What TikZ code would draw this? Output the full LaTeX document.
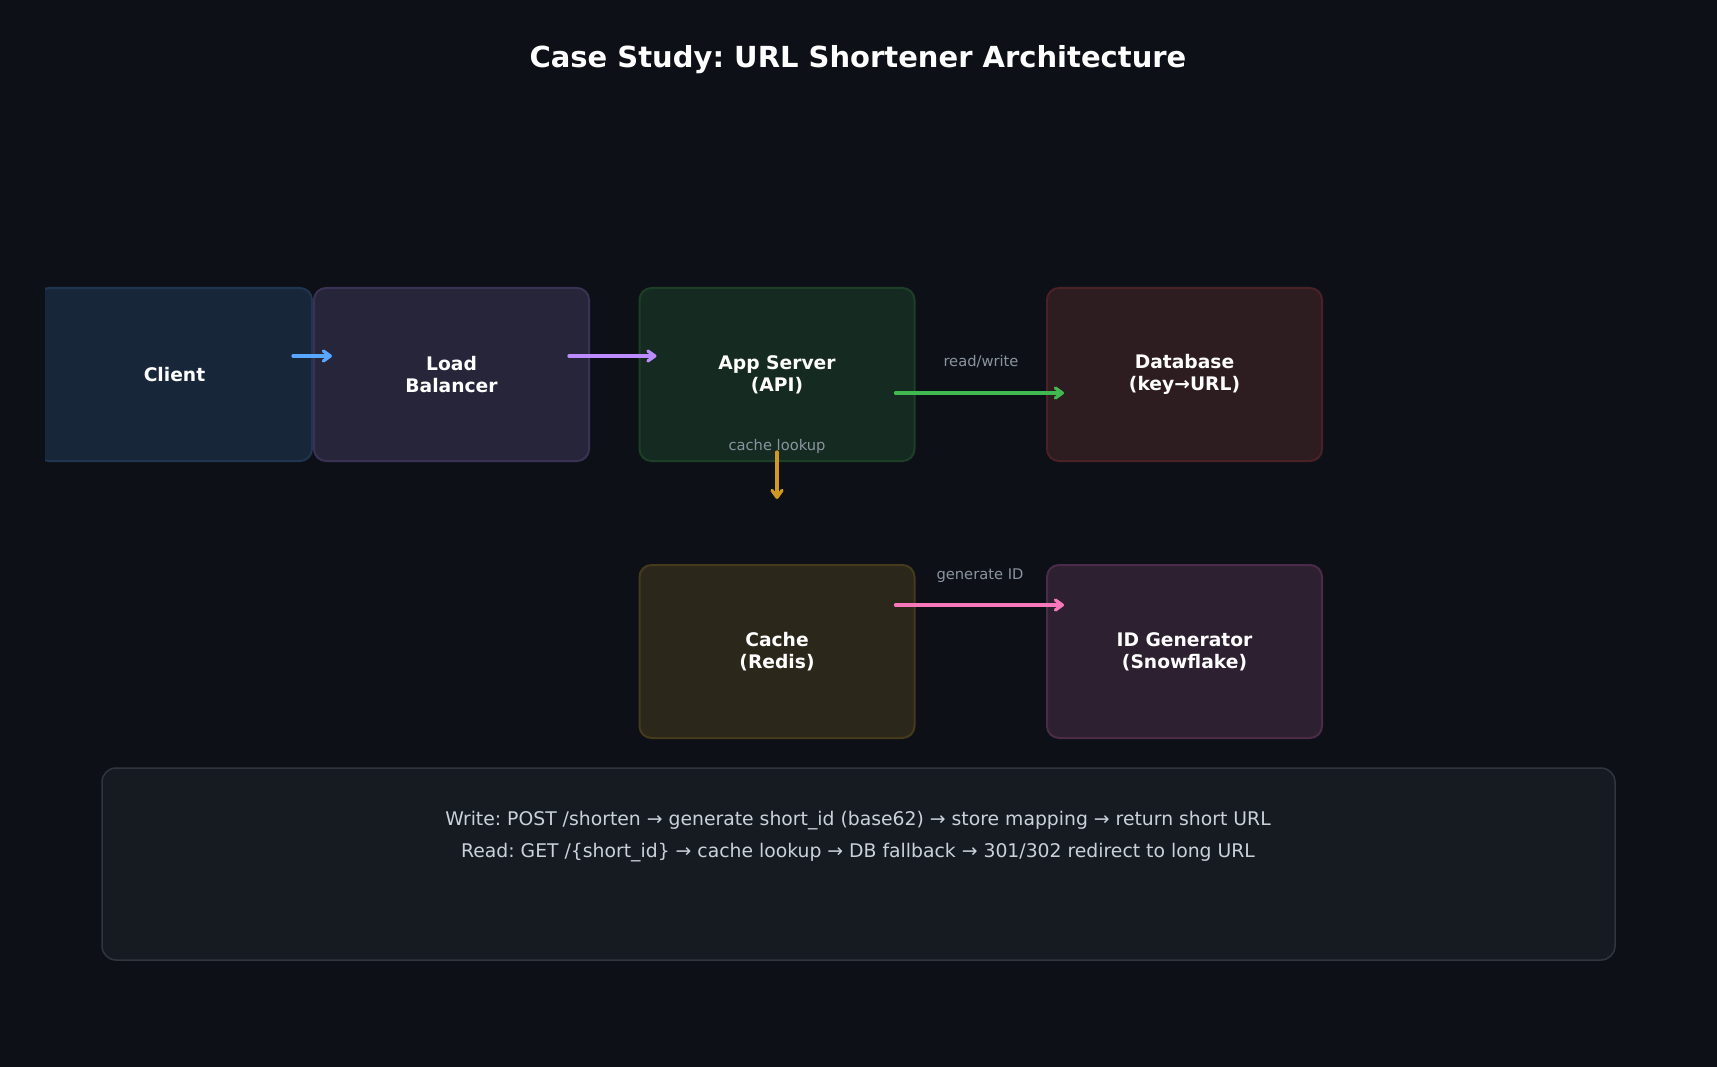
\documentclass[tikz,border=0pt]{standalone}
\usepackage{fontspec}
\setmainfont{DejaVu Sans}
\usetikzlibrary{arrows.meta,calc}
\frenchspacing
\definecolor{bg}{HTML}{0D1117}
\definecolor{lbl}{HTML}{8B949E}
\definecolor{notefill}{HTML}{161B22}
\definecolor{notedraw}{HTML}{30363D}
\definecolor{notetext}{HTML}{C9D1D9}
\definecolor{cblue}{HTML}{58A6FF}
\definecolor{cpurple}{HTML}{BC8CFF}
\definecolor{cgreen}{HTML}{3FB950}
\definecolor{corange}{HTML}{D29922}
\definecolor{cpink}{HTML}{F778BA}
\definecolor{fclient}{HTML}{18263A}
\definecolor{dclient}{HTML}{1F3550}
\definecolor{flb}{HTML}{262539}
\definecolor{dlb}{HTML}{3A3254}
\definecolor{fapp}{HTML}{152A20}
\definecolor{dapp}{HTML}{1D3F27}
\definecolor{fdb}{HTML}{2D1C20}
\definecolor{ddb}{HTML}{4A2226}
\definecolor{fcache}{HTML}{2C271B}
\definecolor{dcache}{HTML}{453A1C}
\definecolor{fid}{HTML}{2D2031}
\definecolor{did}{HTML}{4A2C48}
\tikzset{
  compbox/.style={rectangle, rounded corners=12pt, line width=2pt,
    minimum width=275pt, minimum height=173pt, align=center, text=white,
    font=\bfseries\fontsize{18.7}{22}\selectfont, inner sep=0pt},
  arr/.style={line width=3.3pt, line cap=round,
    -{Straight Barb[length=7pt,width=10pt,round]}},
  elabel/.style={text=lbl, font=\fontsize{14.7}{17}\selectfont, inner sep=0pt}
}
\begin{document}
\begin{tikzpicture}[x=1pt,y=-1pt]
\fill[bg] (0,0) rectangle (1717,1067);
\useasboundingbox (0,0) rectangle (1717,1067);
\node[text=white, font=\bfseries\fontsize{29}{34}\selectfont] (title) at (858,60) {Case Study: URL Shortener Architecture};
\begin{scope}
\clip (45,0) rectangle (1717,1067);
\node[compbox, fill=fclient, draw=dclient] (client) at (174.5,374.5) {Client};
\end{scope}
\node[compbox, fill=flb, draw=dlb] (lb) at (451.5,374.5) {Load\\Balancer};
\node[compbox, fill=fapp, draw=dapp] (app) at (777,374.5) {App Server\\(API)};
\node[compbox, fill=fdb, draw=ddb] (db) at (1184.5,374.5) {Database\\(key→URL)};
\node[compbox, fill=fcache, draw=dcache] (cache) at (777,651.5) {Cache\\(Redis)};
\node[compbox, fill=fid, draw=did] (idgen) at (1184.5,651.5) {ID Generator\\(Snowflake)};
\node[rectangle, rounded corners=14pt, line width=1.5pt, fill=notefill, draw=notedraw,
  minimum width=1513pt, minimum height=192pt, inner sep=0pt] (note) at (858.5,864) {};
\node[text=notetext, align=center, font=\fontsize{18.8}{32}\selectfont] (notetxt) at (858,837)
  {Write: POST /shorten → generate short\_id (base62) → store mapping → return short URL\\
   Read: GET /\{short\_id\} → cache lookup → DB fallback → 301/302 redirect to long URL};
\draw[arr, cblue] ([shift={(-20,-18.5)}]client.east) -- ([shift={(19,-18.5)}]lb.west);
\draw[arr, cpurple] ([shift={(-21,-18.5)}]lb.east) -- ([shift={(18,-18.5)}]app.west);
\draw[arr, cgreen] ([shift={(-20,18.5)}]app.east) -- ([shift={(18,18.5)}]db.west);
\node[elabel] (lrw) at (981,362) {read/write};
\draw[arr, corange] ([shift={(0,-10)}]app.south) -- ([shift={(0,-65)}]cache.north);
\node[elabel] (lcl) at (777,446) {cache lookup};
\draw[arr, cpink] ([shift={(-20,-46.5)}]cache.east) -- ([shift={(18,-46.5)}]idgen.west);
\node[elabel] (lgi) at (980,576) {generate ID};
\end{tikzpicture}
\end{document}
